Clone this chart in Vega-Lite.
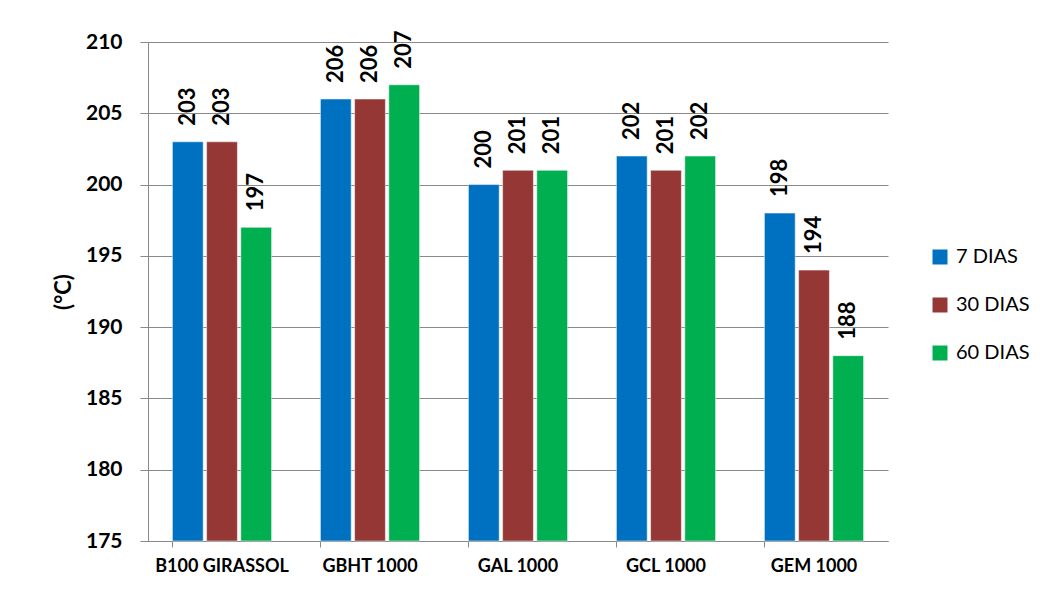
{
  "$schema": "https://vega.github.io/schema/vega-lite/v6.json",
  "width": 740,
  "height": 499,
  "autosize": {"type": "none"},
  "padding": {"left": 148, "top": 42, "right": 162, "bottom": 49},
  "background": "white",
  "config": {
    "view": {"stroke": null},
    "font": "Lato"
  },
  "data": {
    "values": [
      {"amostra": "B100 GIRASSOL", "serie": "7 DIAS", "valor": 203},
      {"amostra": "B100 GIRASSOL", "serie": "30 DIAS", "valor": 203},
      {"amostra": "B100 GIRASSOL", "serie": "60 DIAS", "valor": 197},
      {"amostra": "GBHT 1000", "serie": "7 DIAS", "valor": 206},
      {"amostra": "GBHT 1000", "serie": "30 DIAS", "valor": 206},
      {"amostra": "GBHT 1000", "serie": "60 DIAS", "valor": 207},
      {"amostra": "GAL 1000", "serie": "7 DIAS", "valor": 200},
      {"amostra": "GAL 1000", "serie": "30 DIAS", "valor": 201},
      {"amostra": "GAL 1000", "serie": "60 DIAS", "valor": 201},
      {"amostra": "GCL 1000", "serie": "7 DIAS", "valor": 202},
      {"amostra": "GCL 1000", "serie": "30 DIAS", "valor": 201},
      {"amostra": "GCL 1000", "serie": "60 DIAS", "valor": 202},
      {"amostra": "GEM 1000", "serie": "7 DIAS", "valor": 198},
      {"amostra": "GEM 1000", "serie": "30 DIAS", "valor": 194},
      {"amostra": "GEM 1000", "serie": "60 DIAS", "valor": 188}
    ]
  },
  "encoding": {
    "x": {
      "field": "amostra",
      "type": "nominal",
      "sort": null,
      "scale": {"paddingInner": 0.33, "paddingOuter": 0.165},
      "axis": {
        "title": null,
        "labelAngle": 0,
        "labelFont": "Lato",
        "labelFontSize": 18,
        "labelFontWeight": "bold",
        "labelColor": "black",
        "labelPadding": 10,
        "bandPosition": 0,
        "tickSize": 6,
        "tickColor": "#888888",
        "domainColor": "#888888",
        "grid": false
      }
    },
    "xOffset": {
      "field": "serie",
      "type": "nominal",
      "sort": ["7 DIAS", "30 DIAS", "60 DIAS"],
      "scale": {"paddingInner": 0.1}
    },
    "y": {
      "field": "valor",
      "type": "quantitative",
      "scale": {"domain": [175, 210], "zero": false, "clamp": true},
      "axis": {
        "title": "(°C)",
        "titleFont": "Lato",
        "titleFontSize": 22,
        "titleFontWeight": "bold",
        "titleColor": "black",
        "titlePadding": 10,
        "values": [175, 180, 185, 190, 195, 200, 205, 210],
        "labelFont": "Lato",
        "labelFontSize": 21,
        "labelFontWeight": "bold",
        "labelColor": "black",
        "labelPadding": 18,
        "tickSize": 8,
        "tickColor": "#888888",
        "domainColor": "#888888",
        "gridColor": "#888888",
        "gridWidth": 1
      }
    }
  },
  "layer": [
    {
      "mark": {"type": "bar", "stroke": "white", "strokeWidth": 0.5},
      "encoding": {
        "color": {
          "field": "serie",
          "type": "nominal",
          "sort": ["7 DIAS", "30 DIAS", "60 DIAS"],
          "scale": {"domain": ["7 DIAS", "30 DIAS", "60 DIAS"], "range": ["#0070C0", "#953735", "#00B050"]},
          "legend": {
            "title": null,
            "orient": "none",
            "legendX": 782,
            "legendY": 205,
            "symbolType": "square",
            "symbolSize": 225,
            "symbolStrokeWidth": 0,
            "symbolOpacity": 1,
            "labelFont": "Lato",
            "labelFontSize": 20,
            "labelColor": "black",
            "labelOffset": 6,
            "rowPadding": 28
          }
        }
      }
    },
    {
      "mark": {
        "type": "text",
        "angle": 270,
        "align": "left",
        "baseline": "middle",
        "dx": 16,
        "font": "Lato",
        "fontSize": 22,
        "fontWeight": "bold",
        "color": "black"
      },
      "encoding": {
        "text": {"field": "valor", "type": "quantitative"}
      }
    }
  ]
}
